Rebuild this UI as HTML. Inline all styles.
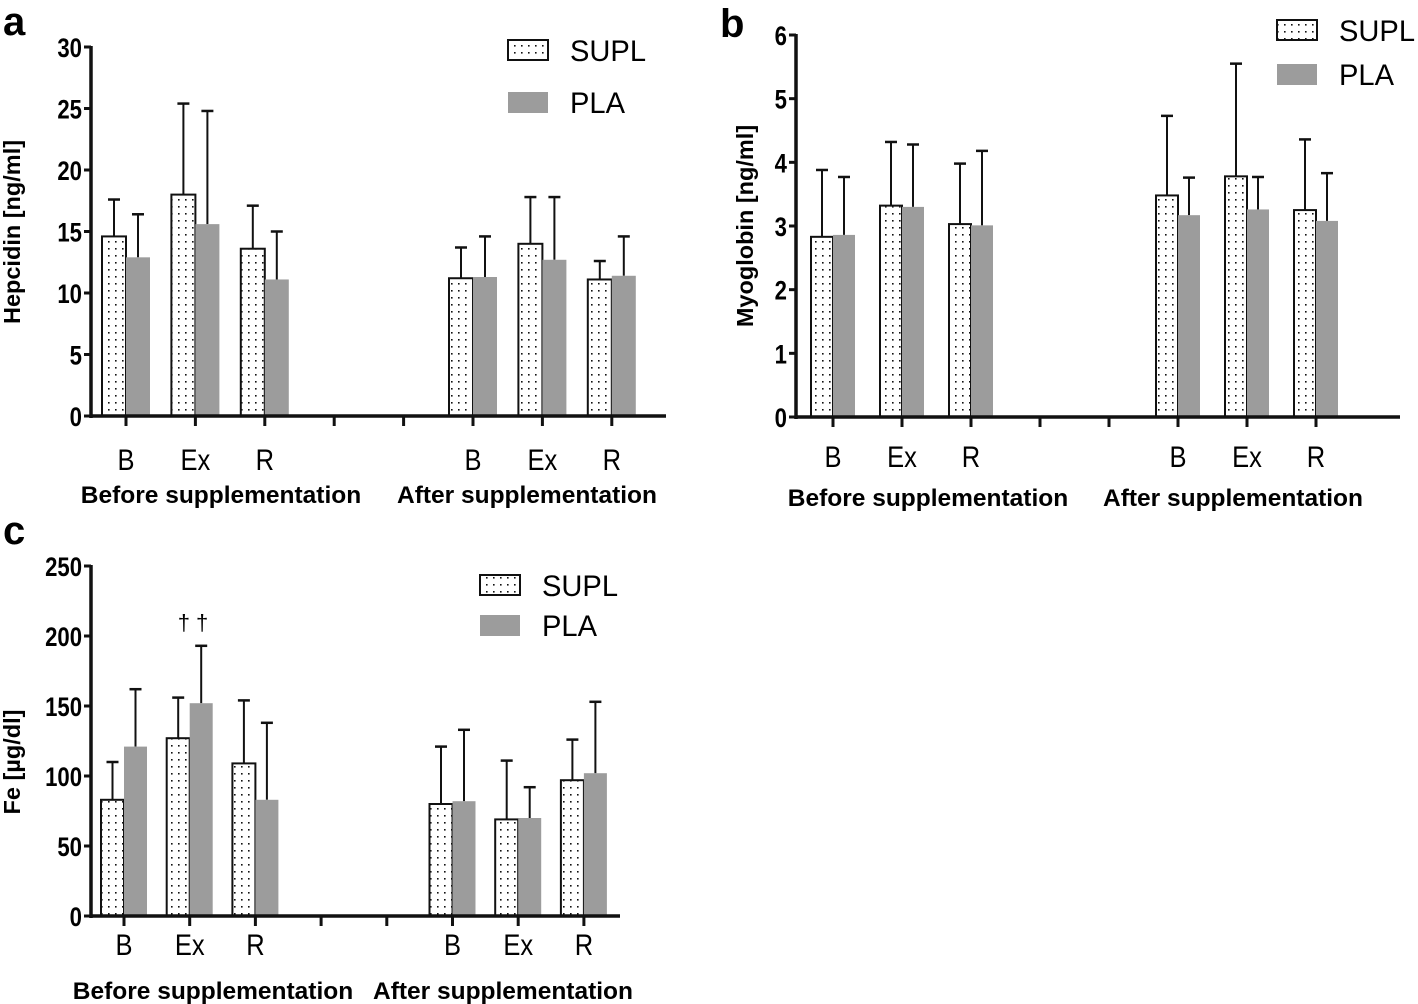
<!DOCTYPE html>
<html><head><meta charset="utf-8"><style>
body{margin:0;background:#fff;}
svg{display:block;font-family:"Liberation Sans",sans-serif;}
.tk{font-size:27px;font-weight:bold;}
.cat{font-size:30px;}
.grp{font-size:24.5px;font-weight:bold;}
.yl{font-size:23.5px;font-weight:bold;}
.lg{font-size:30px;}
.let{font-size:40px;font-weight:bold;}
</style></head><body>
<svg id="fig" width="1418" height="1004">
<defs>
<pattern id="dots" width="7" height="7" patternUnits="userSpaceOnUse">
<rect width="7" height="7" fill="#fff"/><rect x="3" y="3" width="1.6" height="1.6" fill="#111"/>
</pattern>
</defs>
</svg>
<script>
const catLabels=["B","Ex","R","","","B","Ex","R"];
const slots=[0,1,2,5,6,7];
const groupLabels=["Before supplementation","After supplementation"];
// panel a (Hepcidin)
const aTicks=[0,5,10,15,20,25,30];
const aSupl=[14.6,18.0,13.6,11.2,14.0,11.1];
const aSuplErr=[17.6,25.4,17.1,13.7,17.8,12.6];
const aPla=[12.9,15.6,11.1,11.3,12.7,11.4];
const aPlaErr=[16.4,24.8,15.0,14.6,17.8,14.6];
// panel b (Myoglobin)
const bTicks=[0,1,2,3,4,5,6];
const bSupl=[2.83,3.32,3.03,3.48,3.78,3.25];
const bSuplErr=[3.88,4.32,3.98,4.73,5.55,4.36];
const bPla=[2.86,3.30,3.01,3.17,3.26,3.08];
const bPlaErr=[3.77,4.28,4.18,3.76,3.77,3.83];
// panel c (Fe)
const cTicks=[0,50,100,150,200,250];
const cSupl=[83,127,109,80,69,97];
const cSuplErr=[110,156,154,121,111,126];
const cPla=[121,152,83,82,70,102];
const cPlaErr=[162,193,138,133,92,153];

const NS="http://www.w3.org/2000/svg";
const svg=document.getElementById("fig");
function mk(tag,attrs,parent,text){const e=document.createElementNS(NS,tag);for(const k in attrs)e.setAttribute(k,attrs[k]);if(text!==undefined)e.textContent=text;(parent||svg).appendChild(e);return e;}
function ctext(x,y,anchor,cls,txt,parent,sx){return mk("text",{x:0,y:0,transform:`translate(${x},${y}) scale(${sx||0.82},1)`,"text-anchor":anchor,class:cls},parent,txt);}

function panel(p){
  const g=mk("g",{});
  
  
  const max=p.ticks[p.ticks.length-1];
  const y=v=>p.y0-(v/max)*(p.y0-p.yTop);
  const x=i=>p.x0+p.step*i;
  const bw=p.bw;
  slots.forEach((s,k)=>{
    const cx=x(s);
    const ys=y(p.supl[k]), yp=y(p.pla[k]);
    const sx=cx-bw/2, px=cx+bw/2;
    const es=mk("line",{x1:sx,x2:sx,y1:ys,y2:y(p.suplErr[k]),stroke:"#111","stroke-width":2},g);
    
    
    const cs=mk("line",{x1:sx-6,x2:sx+6,y1:y(p.suplErr[k]),y2:y(p.suplErr[k]),stroke:"#111","stroke-width":2.5},g);
    
    
    const ep=mk("line",{x1:px,x2:px,y1:yp,y2:y(p.plaErr[k]),stroke:"#111","stroke-width":2},g);
    
    
    const cp=mk("line",{x1:px-6,x2:px+6,y1:y(p.plaErr[k]),y2:y(p.plaErr[k]),stroke:"#111","stroke-width":2.5},g);
    
    
    const rs=mk("rect",{x:cx-bw,y:ys,width:bw,height:p.y0-ys,fill:"url(#dots)",stroke:"#111","stroke-width":2},g);
    
    
    const rp=mk("rect",{x:cx,y:yp,width:bw,height:p.y0-yp,fill:"#9c9c9c"},g);
    
    
  });
  const ya=mk("line",{x1:p.axX,x2:p.axX,y1:p.yTop-1,y2:p.y0+2,stroke:"#111","stroke-width":3.5},g);
  
  
  const xa=mk("line",{x1:p.axX,x2:p.xEnd,y1:p.y0,y2:p.y0,stroke:"#111","stroke-width":3.5},g);
  
  
  p.ticks.forEach(t=>{
    mk("line",{x1:p.axX-7,x2:p.axX,y1:y(t),y2:y(t),stroke:"#111","stroke-width":3},g);
    const tl=ctext(p.axX-9,y(t)+10,"end","tk",String(t),g);
    
    
  });
  catLabels.forEach((c,i)=>{
    mk("line",{x1:x(i),x2:x(i),y1:p.y0,y2:p.y0+10,stroke:"#111","stroke-width":3},g);
    if(c){const cl=ctext(x(i),p.catY,"middle","cat",c,g,0.85);
    
    }
  });
  groupLabels.forEach((t,i)=>{
    const gl=ctext(p.grpX[i],p.grpY,"middle","grp",t,g,1.0);
    
    
  });
  const yl=mk("text",{x:0,y:0,transform:`translate(${p.ylX},${p.ylY}) rotate(-90)`,"text-anchor":"middle",class:"yl"},g,p.ytitle);
  
  
  const lt=mk("text",{x:p.letX,y:p.letY,class:"let"},g,p.letter);
  
  
  const l1=mk("rect",{x:p.lgX,y:p.lgY,width:40,height:20,fill:"url(#dots)",stroke:"#111","stroke-width":2},g);
  
  
  const t1=ctext(p.lgX+62,p.lgY+21,"start","lg","SUPL",g,0.97);
  
  
  const l2=mk("rect",{x:p.lgX,y:p.lgY+p.lgGap,width:40,height:21,fill:"#9c9c9c"},g);
  
  
  const t2=ctext(p.lgX+62,p.lgY+p.lgGap+21,"start","lg","PLA",g,0.97);
  
  
}
panel({name:"panel-a-hepcidin",letter:"a",letX:3,letY:35,ticks:aTicks,supl:aSupl,suplErr:aSuplErr,pla:aPla,plaErr:aPlaErr,
  axX:91,xEnd:666,y0:416,yTop:47,x0:126,step:69.4,bw:24,catY:470,grpY:503,grpX:[221,527],ytitle:"Hepcidin [ng/ml]",ylX:20,ylY:232,lgX:508,lgY:40,lgGap:52});
panel({name:"panel-b-myoglobin",letter:"b",letX:720,letY:37,ticks:bTicks,supl:bSupl,suplErr:bSuplErr,pla:bPla,plaErr:bPlaErr,
  axX:796,xEnd:1400,y0:417,yTop:35,x0:833,step:69,bw:22,catY:467,grpY:506,grpX:[928,1233],ytitle:"Myoglobin [ng/ml]",ylX:753,ylY:226,lgX:1277,lgY:20,lgGap:44});
panel({name:"panel-c-fe",letter:"c",letX:3,letY:544,ticks:cTicks,supl:cSupl,suplErr:cSuplErr,pla:cPla,plaErr:cPlaErr,
  axX:91,xEnd:620,y0:916,yTop:566,x0:124,step:65.7,bw:23,catY:955,grpY:999,grpX:[213,503],ytitle:"Fe [µg/dl]",ylX:20,ylY:762,lgX:480,lgY:575,lgGap:40});
const dag=document.createElementNS(NS,"text");


dag.setAttribute('x','193');dag.setAttribute('y','630');dag.setAttribute('text-anchor','middle');dag.setAttribute('font-size','22');
dag.textContent="† †";
svg.appendChild(dag);
</script>
</body></html>
